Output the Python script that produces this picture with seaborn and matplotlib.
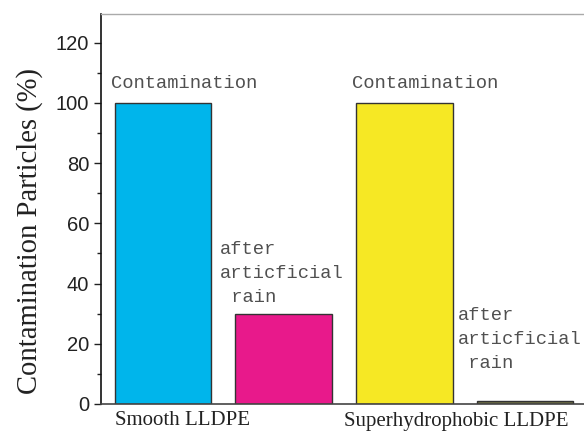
import numpy as np
import pandas as pd
import matplotlib
matplotlib.use("Agg")
import matplotlib.pyplot as plt
import seaborn as sns

# data
samples = ["Smooth LLDPE", "Smooth LLDPE", "Superhydrophobic LLDPE", "Superhydrophobic LLDPE"]
states = ["Contamination", "after\narticficial\n rain", "Contamination", "after\narticficial\n rain"]
values = [100, 30, 100, 1]
bar_colors = ["#00b5eb", "#e8198b", "#f6e824", "#6e6e45"]
group_labels = ["Smooth LLDPE", "Superhydrophobic LLDPE"]

df = pd.DataFrame({"bar": ["b0", "b1", "b2", "b3"], "value": values})

sns.set_style("white")
fig = plt.figure(figsize=(5.84, 4.32), dpi=100)
ax = fig.add_axes([0.173, 0.065, 0.827, 0.903])

sns.barplot(data=df, x="bar", y="value", hue="bar", palette=bar_colors,
            saturation=1, width=0.8, edgecolor="#333333", linewidth=1.0,
            legend=False, ax=ax)

ax.set_xlim(-0.515, 3.49)
ax.set_ylim(0, 129.6)
ax.set_yticks(np.arange(0, 121, 20))
ax.set_yticks(np.arange(10, 121, 20), minor=True)
ax.tick_params(axis="y", which="major", direction="out", length=5, width=1,
               color="#222222", labelsize=14.5, labelcolor="#222222", left=True)
ax.tick_params(axis="y", which="minor", direction="out", length=3, width=1,
               color="#222222", left=True)
for lab in ax.get_yticklabels():
    lab.set_fontfamily("Liberation Sans")
ax.set_xticks([])
ax.set_xlabel("")
ax.set_ylabel("Contamination Particles (%)", fontsize=20.6, family="Liberation Serif",
              color="#222222")
ax.yaxis.set_label_coords(-0.12, 0.444)

ax.spines["left"].set_color("#111111")
ax.spines["left"].set_linewidth(1.2)
ax.spines["bottom"].set_color("#444444")
ax.spines["bottom"].set_linewidth(1.2)
ax.spines["top"].set_color("#aaaaaa")
ax.spines["top"].set_linewidth(1.0)
ax.spines["right"].set_visible(False)

# annotations above bars
text_dx = [-0.43, -0.53, -0.43, -0.56]
text_dy = [3.5, 2.5, 3.5, 9.5]
for i, (txt, v) in enumerate(zip(states, values)):
    ax.text(i + text_dx[i], v + text_dy[i], txt, ha="left", va="bottom",
            fontsize=13.5, family="Liberation Mono", color="#505050",
            linespacing=1.55)

# group labels under the axis
for x0, dy, lab in zip([-0.4, 1.5], [-2.3, -2.8], group_labels):
    ax.text(x0, dy, lab, ha="left", va="top", fontsize=15,
            family="Liberation Serif", color="#222222")

fig.savefig("out.png", dpi=100, facecolor="white")
